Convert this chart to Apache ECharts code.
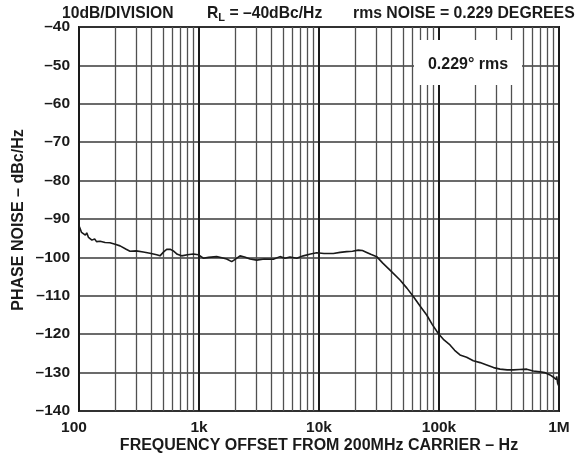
<!DOCTYPE html>
<html><head><meta charset="utf-8">
<script src="https://cdn.jsdelivr.net/npm/echarts@6/dist/echarts.min.js"></script>
<style>html,body{margin:0;padding:0;background:#fff}#c{width:588px;height:460px}</style>
</head><body><div id="c"></div>
<script>
var freqs = [100,102,105,109,113,116,120,128,135,140,150,165,181,200,220,245,266,300,343,390,444,473,510,538,575,611,660,717,800,896,987,1086,1200,1404,1550,1701,1873,2000,2196,2400,2661,3026,3500,4161,4732,5200,5733,6520,7399,8500,9568,11000,13155,15000,17010,19000,21262,23000,24980,27000,30260,34000,39070,47320,54000,61070,70000,78980,88000,98670,110000,123500,135000,149600,170000,193100,220000,249800,285000,322400,370000,416100,470000,538100,610000,694800,760000,841400,900000,926000,945000,956800,975000,1000000];
var noise = [-91.8,-92.4,-93.5,-93.0,-94.2,-93.6,-94.8,-95.5,-95.2,-95.9,-95.8,-96.1,-96.2,-96.6,-97.0,-97.8,-98.4,-98.3,-98.6,-98.9,-99.3,-99.6,-98.5,-97.9,-97.9,-98.3,-99.2,-99.6,-99.3,-99.1,-99.3,-100.2,-100.0,-99.8,-100.1,-100.4,-101.1,-100.5,-99.6,-99.9,-100.4,-100.7,-100.4,-100.5,-99.8,-100.2,-99.9,-100.2,-99.6,-99.1,-98.8,-99.0,-99.0,-98.7,-98.5,-98.4,-98.1,-98.2,-98.7,-99.2,-99.8,-101.5,-103.3,-105.9,-108.0,-110.2,-112.8,-115.0,-117.5,-119.8,-121.5,-122.8,-124.2,-125.4,-126.0,-126.9,-127.4,-128.0,-128.7,-129.1,-129.3,-129.3,-129.2,-129.1,-129.6,-129.8,-130.0,-130.6,-131.2,-130.8,-131.8,-131.0,-132.8,-133.6];
var xTickLabels = {100:'100',1000:'1k',10000:'10k',100000:'100k',1000000:'1M'};
var minorFreqs = [200,300,400,500,600,700,800,900,2000,3000,4000,5000,6000,7000,8000,9000,20000,30000,40000,50000,60000,70000,80000,90000,200000,300000,400000,500000,600000,700000,800000,900000];
var headerTexts = ['10dB/DIVISION', 'R{sub|L} = –40dBc/Hz', 'rms NOISE = 0.229 DEGREES'];
var boxLabel = '0.229° rms';
var xTitle = 'FREQUENCY OFFSET FROM 200MHz CARRIER – Hz';
var yTitle = 'PHASE NOISE – dBc/Hz';

var FONT = '"Liberation Sans", Arial, Helvetica, sans-serif';
var FS = 16;
var chart = echarts.init(document.getElementById('c'), null, {renderer:'canvas'});
chart.setOption({
  animation:false,
  backgroundColor:'#fff',
  grid:{left:79,right:29,top:27,bottom:49,show:true,borderColor:'#1a1a1a',borderWidth:2,backgroundColor:'transparent'},
  xAxis:{type:'log',logBase:10,min:100,max:1000000,
    axisLine:{show:false},axisTick:{show:false},
    axisLabel:{color:'#1a1a1a',fontFamily:FONT,fontWeight:'bold',fontSize:15.5,margin:9,
      formatter:function(v){var t=xTickLabels[Math.round(v)]||''; return Math.round(v)===100 ? '{first|'+t+'}' : t;},
      rich:{first:{fontFamily:FONT,fontWeight:'bold',fontSize:15.5,color:'#1a1a1a',padding:[0,10,0,0]}}},
    splitLine:{show:true,lineStyle:{color:'#1a1a1a',width:2}},
    minorTick:{show:false},minorSplitLine:{show:false}
  },
  yAxis:{type:'value',min:-140,max:-40,interval:10,
    axisLine:{show:false},axisTick:{show:false},
    axisLabel:{color:'#1a1a1a',fontFamily:FONT,fontWeight:'bold',fontSize:15.5,margin:9,
      formatter:function(v){return String(v).replace('-','–');}},
    splitLine:{show:true,lineStyle:{color:'#3a3a3a',width:1.6}}
  },
  series:[{
    type:'line',
    data:freqs.map(function(f,i){return [f,noise[i]];}),
    showSymbol:false,symbol:'none',
    lineStyle:{color:'#1a1a1a',width:1.6},
    z:5,
    markLine:{silent:true,symbol:['none','none'],label:{show:false},animation:false,
      lineStyle:{color:'#505050',width:1.3,type:'solid'},
      data:minorFreqs.map(function(f){return {xAxis:f};}),
      z:1}
  }],
  graphic:[
    {type:'rect',z:100,shape:{x:414,y:40,width:108,height:45},style:{fill:'#fff'}},
    {type:'text',z:101,x:468,y:65,style:{text:boxLabel,fontFamily:FONT,fontWeight:'bold',fontSize:FS,fill:'#1a1a1a',align:'center',verticalAlign:'middle'}},
    {type:'text',z:101,x:62,y:14,style:{text:headerTexts[0],fontFamily:FONT,fontWeight:'bold',fontSize:15.7,fill:'#1a1a1a',align:'left',verticalAlign:'middle'}},
    {type:'text',z:101,x:207,y:14,style:{text:headerTexts[1],fontFamily:FONT,fontWeight:'bold',fontSize:15.7,fill:'#1a1a1a',align:'left',verticalAlign:'middle',
      rich:{sub:{fontFamily:FONT,fontWeight:'bold',fontSize:11,fill:'#1a1a1a',padding:[8,0,0,0]}}}},
    {type:'text',z:101,x:353,y:14,style:{text:headerTexts[2],fontFamily:FONT,fontWeight:'bold',fontSize:15.8,fill:'#1a1a1a',align:'left',verticalAlign:'middle'}},
    {type:'text',z:101,x:319,y:446,style:{text:xTitle,fontFamily:FONT,fontWeight:'bold',fontSize:FS,fill:'#1a1a1a',align:'center',verticalAlign:'middle'}},
    {type:'text',z:101,x:19,y:220,rotation:Math.PI/2,style:{text:yTitle,fontFamily:FONT,fontWeight:'bold',fontSize:FS,fill:'#1a1a1a',align:'center',verticalAlign:'middle'}}
  ]
});
</script></body></html>
